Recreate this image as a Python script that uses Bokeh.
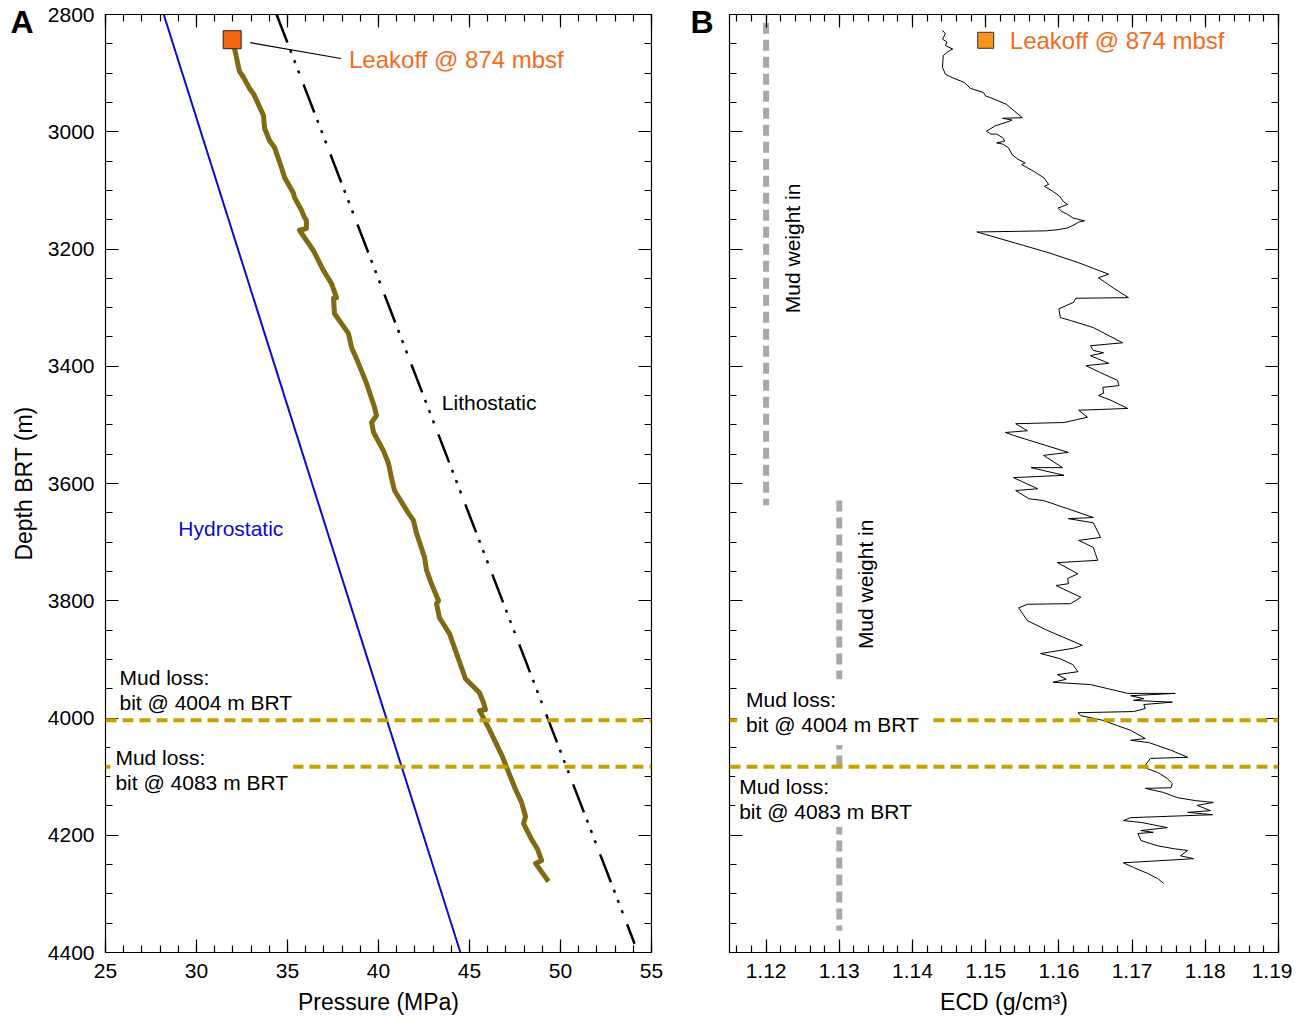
from bokeh.plotting import figure
from bokeh.layouts import row
from bokeh.models import Range1d, LinearAxis, FixedTicker, Label, Span, CustomLabelingPolicy, Title
from bokeh.embed import file_html
from bokeh.resources import INLINE

FONT = "Liberation Sans"

# ---------------- data ----------------
pressure_ticks = [25, 30, 35, 40, 45, 50, 55]
pressure_minor = list(range(25, 56))
depth_ticks = [2800, 3000, 3200, 3400, 3600, 3800, 4000, 4200, 4400]
depth_minor = list(range(2800, 4401, 50))
ecd_ticks = [1.12, 1.13, 1.14, 1.15, 1.16, 1.17, 1.18, 1.19]
ecd_minor = [round(1.116 + 0.002 * i, 3) for i in range(38)]

hydro_p = [28.2, 44.5]
hydro_d = [2800, 4400]
litho_p = [34.4, 54.07]
litho_d = [2800, 4385]

pp_p = [32.09, 32.36, 32.58, 32.91, 33.13, 33.68, 33.74, 34.01, 34.29, 34.67, 34.84, 35.33,
        35.38, 35.77, 35.93, 36.04, 36.04, 35.66, 36.43, 36.98, 37.42, 37.69, 37.53, 37.58,
        38.35, 38.52, 38.90, 39.34, 39.78, 39.89, 39.62, 39.73, 40.27, 40.55, 40.71, 40.88,
        41.65, 41.92, 42.09, 42.53, 42.64, 42.91, 43.30, 43.19, 43.35, 43.90, 44.23, 44.78,
        45.55, 45.77, 45.88, 45.55, 46.10, 46.81, 47.09, 47.53, 47.86, 48.08, 47.97, 48.41,
        48.74, 48.96, 48.63, 49.34]
pp_d = [2858, 2897, 2907, 2926, 2935, 2972, 2994, 3015, 3027, 3061, 3078, 3105,
        3112, 3134, 3146, 3151, 3165, 3168, 3203, 3237, 3259, 3283, 3284, 3310,
        3344, 3368, 3395, 3429, 3470, 3484, 3496, 3513, 3544, 3566, 3590, 3612,
        3651, 3663, 3685, 3726, 3748, 3771, 3800, 3805, 3829, 3856, 3885, 3933,
        3957, 3974, 3986, 3987, 4020, 4066, 4088, 4122, 4144, 4168, 4180, 4207,
        4224, 4243, 4248, 4279]

leakoff_p = [31.96]
leakoff_d = [2843]
leader_p = [32.95, 37.94]
leader_d = [2848, 2875]

mudloss_depths = [4004, 4083]

ecd_x = [1.1441, 1.1445, 1.1441, 1.1447, 1.1445, 1.1455, 1.1450, 1.1442, 1.1441, 1.1445,
         1.1455, 1.1471, 1.1479, 1.1497, 1.1500, 1.1507, 1.1528, 1.1550, 1.1523, 1.1536,
         1.1528, 1.1513, 1.1501, 1.1507, 1.1515, 1.1523, 1.1526, 1.1515, 1.1523, 1.1531,
         1.1536, 1.1544, 1.1554, 1.1549, 1.1565, 1.1580, 1.1586, 1.1580, 1.1591, 1.1601,
         1.1606, 1.1612, 1.1599, 1.1604, 1.1612, 1.1619, 1.1635, 1.1627, 1.1622, 1.1612,
         1.1599, 1.1583, 1.1488,
         1.1552, 1.1585, 1.1626, 1.1647, 1.1668, 1.1654, 1.1675, 1.1695, 1.1623, 1.1620,
         1.1600, 1.1602, 1.1616, 1.1647, 1.1687, 1.1643, 1.1647, 1.1661, 1.1643, 1.1668,
         1.1637, 1.1657, 1.1680, 1.1682, 1.1660, 1.1661, 1.1654, 1.1671, 1.1694, 1.1627,
         1.1639, 1.1607, 1.1541, 1.1557, 1.1527, 1.1538, 1.1613, 1.1579, 1.1605, 1.1562,
         1.1607, 1.1538,
         1.1571, 1.1541, 1.1559, 1.1579, 1.1612, 1.1647, 1.1613, 1.1647, 1.1657, 1.1627,
         1.1647, 1.1653, 1.1598, 1.1626, 1.1612, 1.1613, 1.1596, 1.1630, 1.1616, 1.1557,
         1.1545, 1.1557, 1.1585, 1.1632,
         1.1620, 1.1575, 1.1602, 1.1619, 1.1626, 1.1598, 1.1610, 1.1592, 1.1643, 1.1667,
         1.1694, 1.1759, 1.1698, 1.1716, 1.1702, 1.1755, 1.1716, 1.1718, 1.1702, 1.1626,
         1.1630, 1.1660, 1.1680, 1.1698, 1.1718, 1.1698, 1.1723, 1.1753, 1.1776, 1.1725,
         1.1716, 1.1735, 1.1748, 1.1755, 1.1753, 1.1718, 1.1743, 1.1762, 1.1787, 1.1811,
         1.1789, 1.1807, 1.1776, 1.1810, 1.1698, 1.1688, 1.1712, 1.1748, 1.1712, 1.1729,
         1.1708, 1.1712, 1.1735, 1.1757, 1.1776, 1.1766, 1.1784, 1.1688, 1.1702, 1.1721,
         1.1735, 1.1743]
ecd_d = [2827, 2833, 2842, 2847, 2853, 2859, 2862, 2870, 2890, 2902,
         2908, 2916, 2926, 2933, 2939, 2942, 2953, 2976, 2977, 2980,
         2984, 2990, 2999, 3004, 3004, 3010, 3016, 3019, 3021, 3027,
         3039, 3047, 3053, 3056, 3067, 3079, 3090, 3093, 3101, 3110,
         3119, 3124, 3130, 3136, 3141, 3147, 3152, 3154, 3158, 3164,
         3167, 3169, 3171,
         3194, 3206, 3223, 3233, 3243, 3249, 3267, 3283, 3284, 3291,
         3302, 3317, 3322, 3334, 3360, 3365, 3373, 3377, 3382, 3395,
         3399, 3411, 3424, 3433, 3436, 3446, 3450, 3458, 3472, 3475,
         3487, 3496, 3498, 3510, 3513, 3518, 3547, 3552, 3573, 3573,
         3586, 3590,
         3609, 3612, 3626, 3629, 3643, 3658, 3660, 3667, 3692, 3697,
         3709, 3731, 3735, 3754, 3762, 3771, 3774, 3794, 3805, 3806,
         3812, 3834, 3851, 3876,
         3881, 3890, 3899, 3909, 3921, 3926, 3934, 3939, 3943, 3950,
         3958, 3958, 3962, 3967, 3970, 3973, 3977, 3984, 3989, 3991,
         3996, 4004, 4013, 4021, 4035, 4038, 4042, 4055, 4067, 4069,
         4084, 4093, 4103, 4112, 4119, 4120, 4127, 4136, 4141, 4144,
         4149, 4158, 4161, 4165, 4170, 4175, 4178, 4187, 4192, 4195,
         4197, 4209, 4218, 4223, 4226, 4235, 4240, 4247, 4255, 4265,
         4274, 4282]

mudweight_ecd = [1.12, 1.13]
mudweight_top = [2814, 3629]
mudweight_bot = [3637, 4363]

leakoff_ecd = [1.150]
leakoff_ecd_d = [2844]

# ---------------- styles ----------------
GOLD = "#C8A000"
OLIVE = "#806A14"
BLUE = "#0A0AD2"
ORANGE_TXT = "#F26B1D"
GREY = "#A8A8A8"

FRAME_H = 938


def hide_policy():
    return CustomLabelingPolicy(code="""
        const n = indices.size
        for (let i = 0; i < n; i++) { indices.unset(i) }
        return indices
    """)


def style_axis(ax, show_labels=True):
    ax.axis_line_color = "black"
    ax.axis_line_width = 1.2
    ax.major_tick_in = 13
    ax.major_tick_out = 0
    ax.minor_tick_in = 7
    ax.minor_tick_out = 0
    ax.major_tick_line_color = "black"
    ax.minor_tick_line_color = "black"
    ax.major_tick_line_width = 1.2
    ax.minor_tick_line_width = 1.2
    ax.major_label_text_font = FONT
    ax.major_label_text_color = "black"
    ax.axis_label_text_font = FONT
    ax.axis_label_text_font_size = "23px"
    ax.axis_label_text_font_style = "normal"
    ax.axis_label_text_color = "black"
    if show_labels:
        ax.major_label_text_font_size = "21px"
        ax.major_label_standoff = 11
        ax.axis_label_standoff = 8
    else:
        ax.major_label_text_font_size = "0px"
        ax.major_label_standoff = 0
        ax.major_label_policy = hide_policy()


def add_label(p, x, y, text, size="21px", color="black", align="left", baseline="middle",
              angle=0, bg=False, padding=0, style="normal", **kw):
    lab = Label(x=x, y=y, text=text, text_font=FONT, text_font_size=size, text_color=color,
                text_align=align, text_baseline=baseline, angle=angle, text_font_style=style,
                padding=padding, text_line_height=1.07, **kw)
    if bg:
        lab.background_fill_color = "white"
        lab.background_fill_alpha = 1.0
    p.add_layout(lab)


def panel_letter(p, letter, offset):
    t = Title(text=letter, align="left", vertical_align="bottom", offset=offset, standoff=-50,
              text_font=FONT, text_font_size="32px", text_font_style="bold", text_color="black")
    p.add_layout(t, "above")


# ---------------- panel A ----------------
pA = figure(frame_width=546, frame_height=FRAME_H, x_range=Range1d(25, 55), y_range=Range1d(4400, 2800),
            output_backend="svg", toolbar_location=None,
            min_border_left=105, min_border_right=20, min_border_top=14, min_border_bottom=60,
            x_axis_label="Pressure (MPa)", y_axis_label="Depth BRT (m)")
pA.grid.visible = False
pA.outline_line_color = "black"
pA.background_fill_color = "white"
pA.border_fill_color = "white"

xt = FixedTicker(ticks=pressure_ticks, minor_ticks=pressure_minor)
yt = FixedTicker(ticks=depth_ticks, minor_ticks=depth_minor)
pA.xaxis.ticker = xt
pA.yaxis.ticker = yt
style_axis(pA.xaxis[0])
style_axis(pA.yaxis[0])
topA = LinearAxis(ticker=xt)
rightA = LinearAxis(ticker=yt)
style_axis(topA, False)
style_axis(rightA, False)
pA.add_layout(topA, "above")
pA.add_layout(rightA, "right")
panel_letter(pA, "A", -95)

pA.line(hydro_p, hydro_d, line_color=BLUE, line_width=2)
pA.line(litho_p, litho_d, line_color="black", line_width=2.5, line_dash="30 8 3 8 3 8 3 12")
pA.line(pp_p, pp_d, line_color=OLIVE, line_width=5, line_join="round")
pA.line(leader_p, leader_d, line_color="black", line_width=1.2)
pA.scatter(leakoff_p, leakoff_d, marker="square", size=18, fill_color="#F26511", line_color="#222222",
           line_width=1)

for d in mudloss_depths:
    pA.add_layout(Span(location=d, dimension="width", line_color=GOLD, line_width=4, line_dash="11 6"))

add_label(pA, 38.38, 2877, "Leakoff @ 874 mbsf", size="24px", color=ORANGE_TXT)
add_label(pA, 43.48, 3462, "Lithostatic")
add_label(pA, 29.0, 3677, "Hydrostatic", color=BLUE)
add_label(pA, 25.77, 3912, "Mud loss:\nbit @ 4004 m BRT", baseline="top", bg=True, padding=0)
add_label(pA, 25.27, 4040, "Mud loss:\nbit @ 4083 m BRT", baseline="top", bg=True, padding=5)

# ---------------- panel B ----------------
pB = figure(frame_width=549, frame_height=FRAME_H, x_range=Range1d(1.115, 1.19), y_range=Range1d(4400, 2800),
            output_backend="svg", toolbar_location=None,
            min_border_left=58, min_border_right=14, min_border_top=14, min_border_bottom=60,
            x_axis_label="ECD (g/cm³)")
pB.grid.visible = False
pB.outline_line_color = "black"
pB.background_fill_color = "white"
pB.border_fill_color = "white"

xtB = FixedTicker(ticks=ecd_ticks, minor_ticks=ecd_minor)
pB.xaxis.ticker = xtB
pB.yaxis.ticker = yt
style_axis(pB.xaxis[0])
style_axis(pB.yaxis[0], False)
topB = LinearAxis(ticker=xtB)
rightB = LinearAxis(ticker=yt)
style_axis(topB, False)
style_axis(rightB, False)
pB.add_layout(topB, "above")
pB.add_layout(rightB, "right")
panel_letter(pB, "B", -39)

pB.segment(x0=mudweight_ecd, y0=mudweight_top, x1=mudweight_ecd, y1=mudweight_bot,
           line_color=GREY, line_width=6, line_dash="11 6")
pB.line(ecd_x, ecd_d, line_color="black", line_width=1)
pB.scatter(leakoff_ecd, leakoff_ecd_d, marker="square", size=16, fill_color="#F7941D",
           line_color="#333333", line_width=1)

for d in mudloss_depths:
    pB.add_layout(Span(location=d, dimension="width", line_color=GOLD, line_width=4, line_dash="11 6"))

add_label(pB, 1.15329, 2844, "Leakoff @ 874 mbsf", size="24px", color=ORANGE_TXT)
add_label(pB, 1.12355, 3199, "Mud weight in", align="center", angle=1.5708)
add_label(pB, 1.13364, 3772, "Mud weight in", align="center", angle=1.5708)
add_label(pB, 1.11604, 3934, "Mud loss:\nbit @ 4004 m BRT", baseline="top", bg=True, padding=9)
add_label(pB, 1.11577, 4091, "Mud loss:\nbit @ 4083 m BRT", baseline="top", bg=True, padding=4)

layout = row(pA, pB)
open("out.html", "w").write(file_html(layout, INLINE))
